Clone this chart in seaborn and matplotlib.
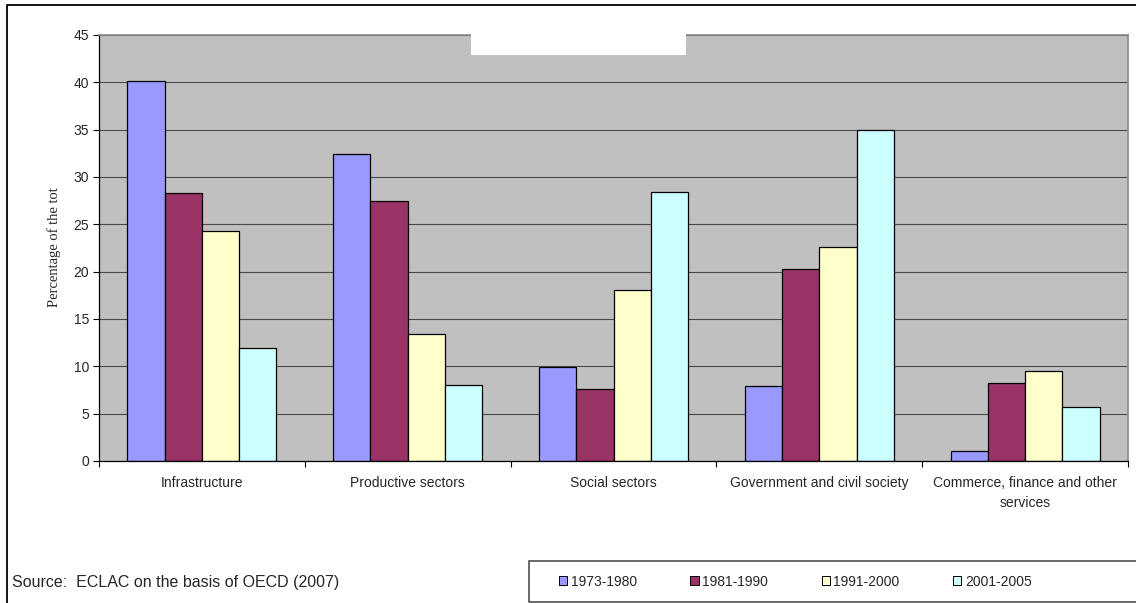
import matplotlib
matplotlib.use("Agg")
import matplotlib.pyplot as plt
from matplotlib.patches import Rectangle
from matplotlib.lines import Line2D
import seaborn as sns
import pandas as pd

# Sector categories and period series (percentage of the total)
sectors = [
    "Infrastructure",
    "Productive sectors",
    "Social sectors",
    "Government and civil society",
    "Commerce, finance and other\nservices",
]
periods = ["1973-1980", "1981-1990", "1991-2000", "2001-2005"]
values_1973_1980 = [40.1, 32.4, 9.9, 7.9, 1.1]
values_1981_1990 = [28.3, 27.5, 7.6, 20.3, 8.2]
values_1991_2000 = [24.3, 13.4, 18.1, 22.6, 9.5]
values_2001_2005 = [11.9, 8.0, 28.4, 35.0, 5.7]
period_colors = ["#9999FF", "#993366", "#FFFFCC", "#CCFFFF"]
y_ticks = [0, 5, 10, 15, 20, 25, 30, 35, 40, 45]

series = [values_1973_1980, values_1981_1990, values_1991_2000, values_2001_2005]
rows = []
for period, vals in zip(periods, series):
    for sector, v in zip(sectors, vals):
        rows.append({"sector": sector, "period": period, "value": v})
df = pd.DataFrame(rows)

sns.set_style("ticks")
plt.rcParams["font.family"] = ["Liberation Sans", "DejaVu Sans"]

W, H = 1136, 603
fig = plt.figure(figsize=(W / 100, H / 100), dpi=100)
ax = fig.add_axes([99 / W, 1 - 461 / H, (1128 - 99) / W, (461 - 35) / H])
ax.set_facecolor("#C0C0C0")

sns.barplot(
    data=df, x="sector", y="value", hue="period", order=sectors,
    hue_order=periods, palette=period_colors, width=0.724, saturation=1,
    edgecolor="black", linewidth=0.9, legend=False, ax=ax,
)

ax.set_xlim(-0.5, len(sectors) - 0.5)
ax.set_ylim(0, 45)
ax.set_yticks(y_ticks)
ax.set_yticklabels([str(t) for t in y_ticks], fontsize=10)
ax.yaxis.grid(True, color="#4a4a4a", linewidth=0.8)
ax.xaxis.grid(False)
ax.set_axisbelow(True)
ax.set_xlabel("")
ax.set_ylabel("")

# category labels centred under groups, ticks at group boundaries
ax.set_xticks(range(len(sectors)))
ax.set_xticklabels(sectors, fontsize=10, linespacing=1.55)
ax.tick_params(axis="x", which="major", length=0, pad=11)
ax.set_xticks([i - 0.5 for i in range(len(sectors) + 1)], minor=True)
ax.tick_params(axis="x", which="minor", length=4, width=0.8, color="black", direction="out")
ax.tick_params(axis="y", length=4, width=0.8, color="black", direction="out", pad=3)

for side in ("left", "bottom"):
    ax.spines[side].set_color("black")
    ax.spines[side].set_linewidth(0.9)
for side in ("top", "right"):
    ax.spines[side].set_visible(True)
    ax.spines[side].set_color("#8a8a8a")
    ax.spines[side].set_linewidth(1.2)

# vertical axis caption
fig.text(54 / W, 1 - 247 / H, "Percentage of the tot", rotation=90,
         ha="center", va="center", fontsize=10.5,
         family=["Liberation Serif", "DejaVu Serif"])

# blank title panel over the top of the plot area
fig.patches.append(Rectangle((471 / W, 1 - 55 / H), 215 / W, 22 / H,
                             transform=fig.transFigure, facecolor="white",
                             edgecolor="none", zorder=5))

# outer frame (top and left edges)
fig.lines.append(Line2D([7 / W, 7 / W, 1.0], [0.0, 1 - 4.5 / H, 1 - 4.5 / H],
                        transform=fig.transFigure, color="black", linewidth=1.3))

# source note
fig.text(12 / W, 1 - 583 / H, "Source:  ECLAC on the basis of OECD (2007)",
         ha="left", va="center", fontsize=11.5)

# legend panel
fig.patches.append(Rectangle((529 / W, 1 - 602 / H), (W - 529 + 10) / W, 41 / H,
                             transform=fig.transFigure, facecolor="white",
                             edgecolor="#404040", linewidth=1.1, zorder=1))
handles = [Rectangle((0, 0), 1, 1, facecolor=c, edgecolor="black", linewidth=0.7)
           for c in period_colors]
fig.legend(handles, periods, loc="center left",
           bbox_to_anchor=(559 / W, 1 - 581.5 / H), ncol=4, frameon=False,
           fontsize=10, handlelength=0.6, handleheight=0.6,
           handletextpad=0.25, columnspacing=3.85, borderaxespad=0,
           borderpad=0)

fig.savefig("out.png", dpi=100)
